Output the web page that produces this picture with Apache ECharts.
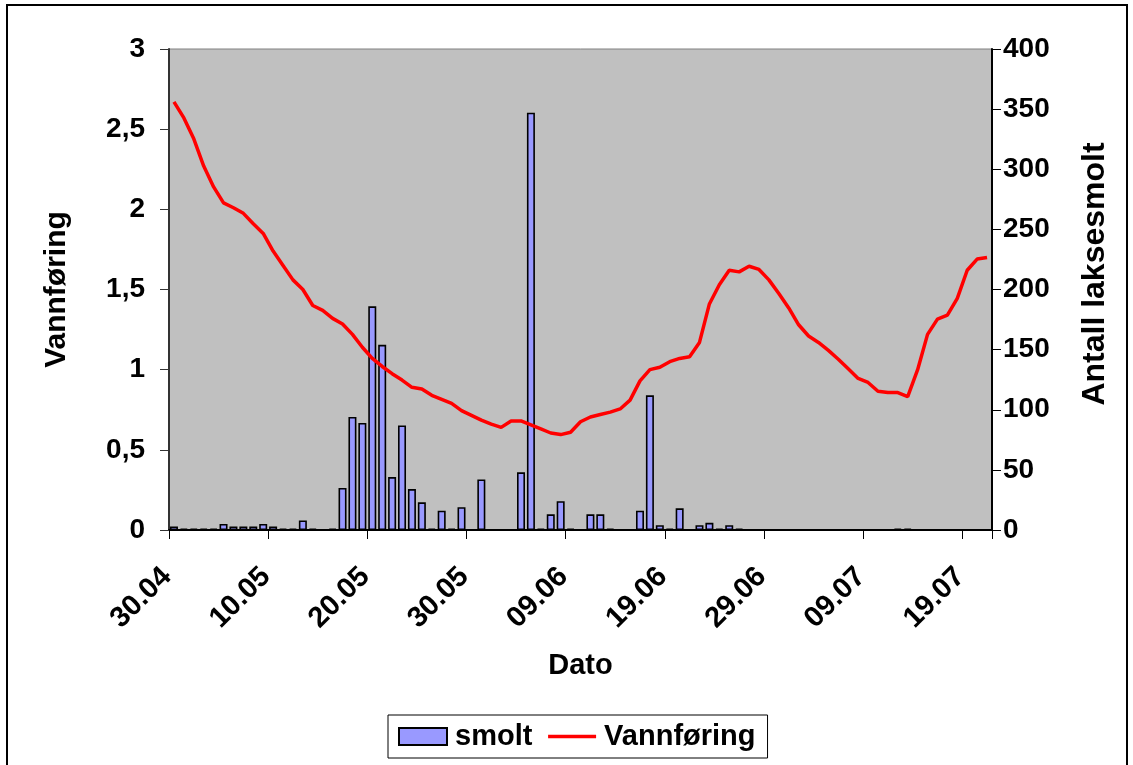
<!DOCTYPE html>
<html>
<head>
<meta charset="utf-8">
<script src="https://cdn.jsdelivr.net/npm/echarts@6/dist/echarts.min.js"></script>
<style>
html,body{margin:0;padding:0;background:#fff;}
#chart{width:1133px;height:765px;}
</style>
</head>
<body>
<div id="chart"></div>
<script>
const categories = [
"30.04",
"01.05","02.05","03.05","04.05","05.05","06.05","07.05","08.05","09.05","10.05",
"11.05","12.05","13.05","14.05","15.05","16.05","17.05","18.05","19.05","20.05",
"21.05","22.05","23.05","24.05","25.05","26.05","27.05","28.05","29.05","30.05","31.05",
"01.06","02.06","03.06","04.06","05.06","06.06","07.06","08.06","09.06","10.06",
"11.06","12.06","13.06","14.06","15.06","16.06","17.06","18.06","19.06","20.06",
"21.06","22.06","23.06","24.06","25.06","26.06","27.06","28.06","29.06","30.06",
"01.07","02.07","03.07","04.07","05.07","06.07","07.07","08.07","09.07","10.07",
"11.07","12.07","13.07","14.07","15.07","16.07","17.07","18.07","19.07","20.07","21.07"
];

// Antall laksesmolt (right axis)
const smolt = [
3,1,1,1,1,5,3,3,3,5,
3,1,1,8,1,null,1,35,94,89,
186,154,44,87,34,23,1,16,1,19,
null,42,null,null,null,48,347,1,13,24,
1,null,13,13,1,null,null,16,112,4,
1,18,null,4,6,1,4,1,null,null,
null,null,null,null,null,null,null,null,null,null,
null,null,null,1,1,null,null,null,null,null,
null,null,null
];

// Vannføring (left axis)
const vannforing = [
2.67,2.57,2.44,2.27,2.14,2.04,2.01,1.975,1.91,1.85,
1.74,1.65,1.56,1.50,1.40,1.37,1.32,1.285,1.22,1.14,
1.07,1.02,0.975,0.935,0.89,0.88,0.84,0.815,0.79,0.745,
0.715,0.685,0.66,0.64,0.68,0.68,0.655,0.63,0.605,0.595,
0.61,0.675,0.705,0.72,0.735,0.755,0.81,0.93,1.00,1.015,
1.05,1.07,1.08,1.17,1.41,1.53,1.62,1.61,1.645,1.625,
1.56,1.475,1.385,1.28,1.21,1.17,1.12,1.065,1.005,0.945,
0.92,0.865,0.857,0.857,0.832,1.00,1.22,1.315,1.34,1.445,
1.62,1.69,1.70
];

const leftAxisName = "Vannføring";
const rightAxisName = "Antall laksesmolt";
const xAxisName = "Dato";

const FONT = "'Liberation Sans', Arial, sans-serif";

const chart = echarts.init(document.getElementById('chart'), null, {renderer: 'canvas'});
chart.setOption({
  animation: false,
  backgroundColor: '#ffffff',
  textStyle: {fontFamily: FONT},
  graphic: [{
    type: 'rect',
    shape: {x: 7, y: 5, width: 1120, height: 800},
    style: {fill: 'none', stroke: '#000', lineWidth: 2},
    silent: true
  }],
  grid: {
    left: 169, right: 141, top: 49, bottom: 235,
    show: true, backgroundColor: '#C0C0C0', borderColor: '#808080', borderWidth: 1
  },
  legend: {
    left: 388, top: 715,
    orient: 'horizontal',
    padding: [7, 12, 7, 10],
    itemGap: 14,
    itemWidth: 48, itemHeight: 17,
    borderColor: '#000', borderWidth: 1,
    backgroundColor: '#fff',
    textStyle: {fontFamily: FONT, fontWeight: 'bold', fontSize: 29, color: '#000', padding: [0, 0, 0, 3]},
    data: [
      {name: 'smolt', icon: 'rect'},
      {name: 'Vannføring', itemStyle: {color: 'rgba(0,0,0,0)', borderWidth: 0, opacity: 0},
       lineStyle: {color: '#FF0000', width: 3.5}}
    ]
  },
  xAxis: {
    type: 'category',
    data: categories,
    boundaryGap: true,
    name: xAxisName,
    nameLocation: 'middle',
    nameGap: 121,
    nameTextStyle: {fontFamily: FONT, fontWeight: 'bold', fontSize: 29, color: '#000'},
    axisLine: {lineStyle: {color: '#000', width: 2}},
    axisTick: {show: true, interval: 9, length: 9, alignWithLabel: false, lineStyle: {color: '#000', width: 1}},
    axisLabel: {
      interval: 9, rotate: 45, margin: 35, padding: [0, 10, 0, 0],
      fontFamily: FONT, fontWeight: 'bold', fontSize: 29, color: '#000'
    },
    splitLine: {show: false}
  },
  yAxis: [{
    type: 'value',
    position: 'left',
    min: 0, max: 3, interval: 0.5,
    name: leftAxisName,
    nameLocation: 'middle',
    nameRotate: 90,
    nameGap: 97,
    nameTextStyle: {fontFamily: FONT, fontWeight: 'bold', fontSize: 30, color: '#000'},
    axisLine: {show: true, lineStyle: {color: '#333', width: 2}},
    axisTick: {show: true, length: 9, lineStyle: {color: '#333', width: 1}},
    axisLabel: {
      margin: 24, fontFamily: FONT, fontWeight: 'bold', fontSize: 28, color: '#000',
      formatter: v => String(v).replace('.', ',')
    },
    splitLine: {show: false}
  }, {
    type: 'value',
    position: 'right',
    min: 0, max: 400, interval: 50,
    name: rightAxisName,
    nameLocation: 'middle',
    nameRotate: 90,
    nameGap: 87,
    nameTextStyle: {fontFamily: FONT, fontWeight: 'bold', fontSize: 32, color: '#000', padding: [0, 0, 0, 31]},
    axisLine: {show: true, lineStyle: {color: '#000', width: 2}},
    axisTick: {show: true, length: 9, lineStyle: {color: '#000', width: 1}},
    axisLabel: {margin: 11, fontFamily: FONT, fontWeight: 'bold', fontSize: 28, color: '#000'},
    splitLine: {show: false}
  }],
  series: [{
    name: 'smolt',
    type: 'bar',
    yAxisIndex: 1,
    data: smolt,
    barWidth: 8,
    itemStyle: {color: '#9999FF', borderColor: '#000', borderWidth: 1.6},
    z: 2
  }, {
    name: 'Vannføring',
    type: 'line',
    yAxisIndex: 0,
    data: vannforing,
    symbol: 'none',
    showSymbol: false,
    lineStyle: {color: '#FF0000', width: 3.5},
    itemStyle: {color: '#FF0000'},
    z: 3
  }]
});
</script>
</body>
</html>
